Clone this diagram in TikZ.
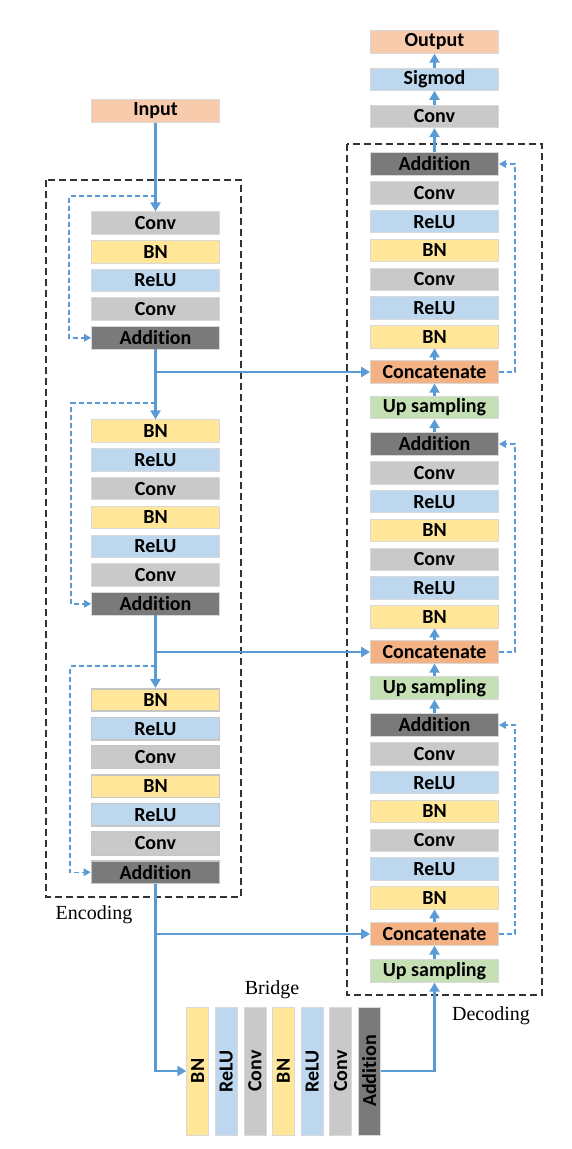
\documentclass[tikz,border=0pt]{standalone}
\usepackage{fontspec}
\setmainfont{Liberation Serif}
\newfontfamily\carl[Ligatures=NoCommon]{Carlito}
\usetikzlibrary{arrows.meta,calc}
\definecolor{cOrange}{HTML}{F8CBAD}
\definecolor{cConcat}{HTML}{F4B183}
\definecolor{cConv}{HTML}{C9C9C9}
\definecolor{cBN}{HTML}{FFE699}
\definecolor{cReLU}{HTML}{BDD7EE}
\definecolor{cAdd}{HTML}{7A7A7A}
\definecolor{cUp}{HTML}{C5E0B4}
\definecolor{cArrow}{HTML}{5B9BD5}
\definecolor{cBorder}{HTML}{D9D9D9}
\tikzset{
  lay/.style={rectangle, minimum width=128pt, minimum height=22.5pt, inner sep=0pt,
    draw=cBorder, line width=0.8pt, font=\carl\bfseries\fontsize{20}{22}\selectfont},
  convb/.style={lay, fill=cConv},
  bnb/.style={lay, fill=cBN},
  relub/.style={lay, fill=cReLU},
  addb/.style={lay, fill=cAdd},
  inb/.style={lay, fill=cOrange},
  catb/.style={lay, fill=cConcat},
  upb/.style={lay, fill=cUp},
  thick3/.style={draw=cConv!80!black!60, line width=1.6pt},
  vert/.style={minimum width=128pt, minimum height=22pt, rotate=90},
  arr/.style={draw=cArrow, line width=2.4pt, -{Triangle[length=9pt,width=10pt]}},
  darr/.style={draw=cArrow, line width=1.4pt, dash pattern=on 5pt off 3pt, -{Triangle[length=7pt,width=7.5pt]}},
  framebox/.style={draw=black!80, line width=1.2pt, dash pattern=on 7pt off 4pt},
  lbl/.style={font=\fontsize{20}{22}\selectfont, inner sep=0pt}
}
\begin{document}
\begin{tikzpicture}[x=1pt,y=-1pt]
\useasboundingbox (0,0) rectangle (572,1149);
% frames
\draw[framebox] (46,180) rectangle (241,897);
\draw[framebox] (347,144) rectangle (542,995);
\node[lbl] (encl) at (94,915) {Encoding};
\node[lbl] (bril) at (272,990) {Bridge};
\node[lbl] (decl) at (491,1016) {Decoding};
% encoder
\node[inb] (inp) at (155.5,111) {Input};
\node[convb] (e11) at (155.5,223) {Conv};
\node[bnb]   (e12) at (155.5,251.7) {BN};
\node[relub] (e13) at (155.5,280.4) {ReLU};
\node[convb] (e14) at (155.5,309.1) {Conv};
\node[addb]  (e15) at (155.5,337.8) {Addition};
\node[bnb]   (e21) at (155.5,431) {BN};
\node[relub] (e22) at (155.5,459.8) {ReLU};
\node[convb] (e23) at (155.5,488.6) {Conv};
\node[bnb]   (e24) at (155.5,517.4) {BN};
\node[relub] (e25) at (155.5,546.2) {ReLU};
\node[convb] (e26) at (155.5,575) {Conv};
\node[addb]  (e27) at (155.5,603.8) {Addition};
\node[bnb,thick3]   (e31) at (155.5,700) {BN};
\node[relub,thick3] (e32) at (155.5,728.7) {ReLU};
\node[convb,thick3] (e33) at (155.5,757.4) {Conv};
\node[bnb,thick3]   (e34) at (155.5,786.1) {BN};
\node[relub,thick3] (e35) at (155.5,814.8) {ReLU};
\node[convb,thick3] (e36) at (155.5,843.5) {Conv};
\node[addb,thick3]  (e37) at (155.5,872.2) {Addition};
% decoder
\node[inb]   (out) at (434.5,42) {Output};
\node[relub] (sig) at (434.5,79.2) {Sigmod};
\node[convb] (fc)  at (434.5,116.5) {Conv};
\node[addb]  (da1) at (434.5,164) {Addition};
\node[convb] (d12) at (434.5,192.8) {Conv};
\node[relub] (d13) at (434.5,221.6) {ReLU};
\node[bnb]   (d14) at (434.5,250.4) {BN};
\node[convb] (d15) at (434.5,279.2) {Conv};
\node[relub] (d16) at (434.5,308) {ReLU};
\node[bnb]   (d17) at (434.5,336.8) {BN};
\node[catb]  (dc1) at (434.5,372) {Concatenate};
\node[upb]   (du1) at (434.5,407.5) {Up sampling};
\node[addb]  (da2) at (434.5,444) {Addition};
\node[convb] (d22) at (434.5,472.8) {Conv};
\node[relub] (d23) at (434.5,501.6) {ReLU};
\node[bnb]   (d24) at (434.5,530.4) {BN};
\node[convb] (d25) at (434.5,559.2) {Conv};
\node[relub] (d26) at (434.5,588) {ReLU};
\node[bnb]   (d27) at (434.5,616.8) {BN};
\node[catb]  (dc2) at (434.5,652) {Concatenate};
\node[upb]   (du2) at (434.5,688) {Up sampling};
\node[addb]  (da3) at (434.5,725) {Addition};
\node[convb] (d32) at (434.5,753.8) {Conv};
\node[relub] (d33) at (434.5,782.6) {ReLU};
\node[bnb]   (d34) at (434.5,811.4) {BN};
\node[convb] (d35) at (434.5,840.2) {Conv};
\node[relub] (d36) at (434.5,869) {ReLU};
\node[bnb]   (d37) at (434.5,897.8) {BN};
\node[catb]  (dc3) at (434.5,934) {Concatenate};
\node[upb]   (du3) at (434.5,971) {Up sampling};
% bridge
\node[bnb,vert]   (br1) at (197.7,1071) {BN};
\node[relub,vert] (br2) at (226.3,1071) {ReLU};
\node[convb,vert] (br3) at (254.9,1071) {Conv};
\node[bnb,vert]   (br4) at (283.5,1071) {BN};
\node[relub,vert] (br5) at (312.1,1071) {ReLU};
\node[convb,vert] (br6) at (340.7,1071) {Conv};
\node[addb,vert]  (br7) at (369.3,1071) {Addition};
% encoder connectors
\coordinate (s1) at (155.5,196);
\coordinate (s2) at (155.5,403);
\coordinate (s3) at (155.5,666);
\coordinate (b1) at (155.5,372);
\coordinate (b2) at (155.5,652);
\coordinate (b3) at (155.5,934);
\draw[arr] (inp) -- (e11);
\draw[darr] (s1) -- ++(-86.5,0) |- (e15.west);
\draw[arr] (e15) -- (e21);
\draw[darr] (s2) -- ++(-84.5,0) |- (e27.west);
\draw[arr] (e27) -- (e31);
\draw[darr] (s3) -- ++(-85.5,0) |- (e37.west);
\draw[arr] (b1) -- (dc1.west);
\draw[arr] (b2) -- (dc2.west);
\draw[arr] (b3) -- (dc3.west);
\draw[arr] (e37.south) |- (br1.north);
\draw[arr] (br7.south) -| (du3.south);
% decoder connectors
\draw[arr] (du3) -- (dc3);
\draw[arr] (dc3) -- (d37);
\draw[arr] (da3) -- (du2);
\draw[arr] (du2) -- (dc2);
\draw[arr] (dc2) -- (d27);
\draw[arr] (da2) -- (du1);
\draw[arr] (du1) -- (dc1);
\draw[arr] (dc1) -- (d17);
\draw[arr] (da1) -- (fc);
\draw[arr] (fc) -- (sig);
\draw[arr] (sig) -- (out);
\draw[darr] (dc1.east) -- ++(16,0) |- (da1.east);
\draw[darr] (dc2.east) -- ++(16,0) |- (da2.east);
\draw[darr] (dc3.east) -- ++(16,0) |- (da3.east);
\end{tikzpicture}
\end{document}
